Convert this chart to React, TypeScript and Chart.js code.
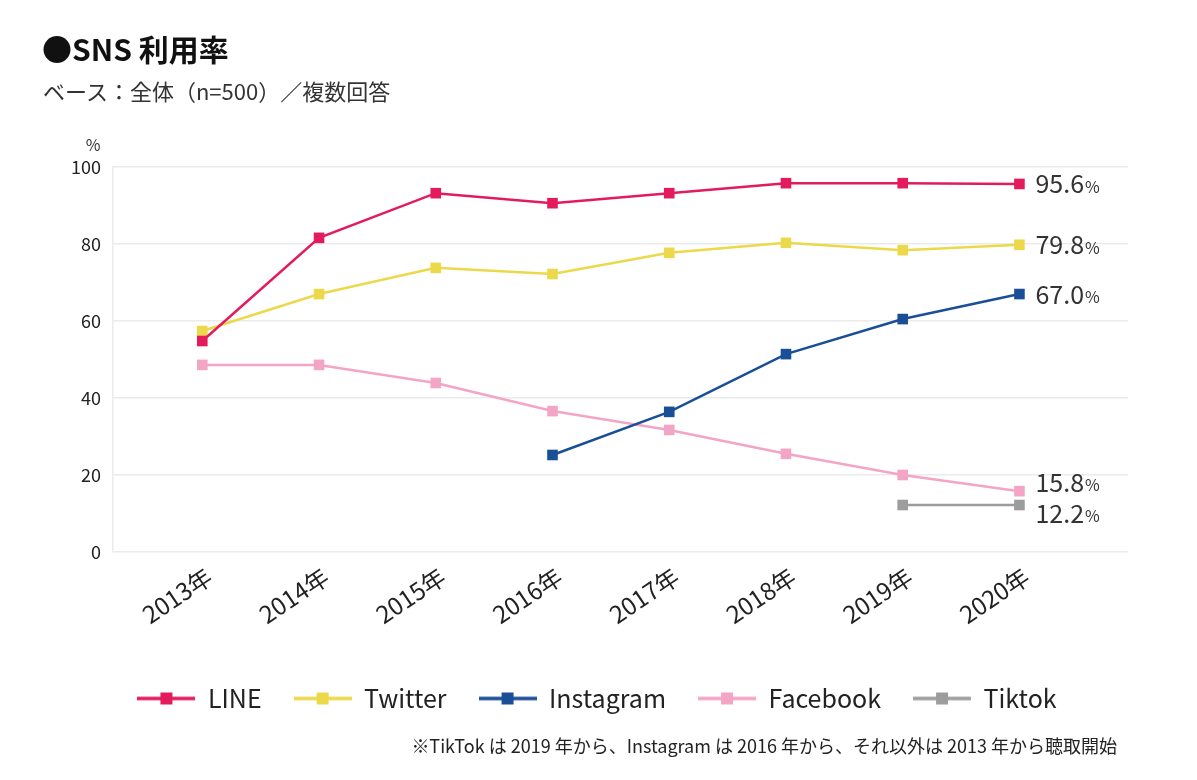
import React, { useEffect, useRef } from "react";
import { Chart, registerables } from "chart.js";

Chart.register(...registerables);

const years = ["2013年", "2014年", "2015年", "2016年", "2017年", "2018年", "2019年", "2020年"];
const lineValues = [54.8, 81.6, 93.2, 90.6, 93.2, 95.8, 95.8, 95.6];
const twitterValues = [57.4, 67.0, 73.8, 72.2, 77.7, 80.3, 78.4, 79.8];
const instagramValues = [null, null, null, 25.2, 36.4, 51.4, 60.5, 67.0];
const facebookValues = [48.6, 48.6, 43.9, 36.6, 31.7, 25.5, 20.0, 15.8];
const tiktokValues = [null, null, null, null, null, null, 12.2, 12.2];
const seriesNames = ["LINE", "Twitter", "Instagram", "Facebook", "Tiktok"];
const seriesColors = ["#e31b5d", "#ecd94b", "#1a4e96", "#f3a5c5", "#9d9d9d"];
const yTicks = [0, 20, 40, 60, 80, 100];
const endLabelShift = [0, 0, 0, -9, 8];

const FONT = "'Noto Sans CJK JP', 'Noto Sans', sans-serif";

function toPoints(values: (number | null)[]) {
  return values
    .map((v, i) => (v === null ? null : { x: i, y: v }))
    .filter((p) => p !== null) as { x: number; y: number }[];
}

function legendImage(color: string) {
  const c = document.createElement("canvas");
  c.width = 58;
  c.height = 14;
  const ctx = c.getContext("2d")!;
  ctx.strokeStyle = color;
  ctx.lineWidth = 3.5;
  ctx.beginPath();
  ctx.moveTo(0, 7);
  ctx.lineTo(58, 7);
  ctx.stroke();
  ctx.fillStyle = color;
  ctx.fillRect(23, 1, 12, 12);
  return c;
}

const endLabelPlugin = {
  id: "endLabels",
  afterDatasetsDraw(chart: any) {
    const ctx = chart.ctx;
    chart.data.datasets.forEach((ds: any, i: number) => {
      const meta = chart.getDatasetMeta(i);
      const pts = meta.data;
      if (!pts.length) return;
      const last = pts[pts.length - 1];
      const val = ds.data[ds.data.length - 1].y;
      const txt = val.toFixed(1);
      const x = last.x + 16;
      const y = last.y + endLabelShift[i];
      ctx.save();
      ctx.fillStyle = "#333";
      ctx.textBaseline = "middle";
      ctx.textAlign = "left";
      ctx.font = `25px ${FONT}`;
      ctx.fillText(txt, x, y);
      const w = ctx.measureText(txt).width;
      ctx.font = `16px ${FONT}`;
      ctx.fillText("%", x + w + 1, y + 3);
      ctx.restore();
    });
    const area = chart.chartArea;
    ctx.save();
    ctx.fillStyle = "#333";
    ctx.font = `16px ${FONT}`;
    ctx.textAlign = "center";
    ctx.textBaseline = "middle";
    ctx.fillText("%", area.left - 20, area.top - 22);
    ctx.restore();
  },
};

export default function App() {
  const ref = useRef<HTMLCanvasElement>(null);
  useEffect(() => {
    const allValues = [lineValues, twitterValues, instagramValues, facebookValues, tiktokValues];
    const images = seriesColors.map(legendImage);
    const chart = new Chart(ref.current!, {
      type: "line",
      data: {
        datasets: allValues.map((vals, i) => ({
          label: seriesNames[i],
          data: toPoints(vals),
          borderColor: seriesColors[i],
          backgroundColor: seriesColors[i],
          borderWidth: 2.5,
          pointStyle: "rect",
          pointRadius: 7.5,
          pointHoverRadius: 7.5,
          pointBorderWidth: 0,
          tension: 0,
        })),
      },
      options: {
        animation: false,
        responsive: false,
        layout: { padding: { left: 66, right: 69, top: 167, bottom: 59 } },
        scales: {
          x: {
            type: "linear",
            min: -0.765,
            max: 7.93,
            afterBuildTicks: (scale: any) => {
              scale.ticks = years.map((_, i) => ({ value: i }));
            },
            afterFit: (scale: any) => {
              scale.height = 102;
            },
            grid: { display: false },
            border: { display: false },
            ticks: {
              callback: (v: any) => years[v as number],
              minRotation: 34,
              maxRotation: 34,
              labelOffset: 7,
              padding: 2,
              color: "#222",
              font: { family: FONT, size: 24 },
            },
          },
          y: {
            min: 0,
            max: 100,
            afterBuildTicks: (scale: any) => {
              scale.ticks = yTicks.map((v) => ({ value: v }));
            },
            afterFit: (scale: any) => {
              scale.width = 47;
            },
            grid: { color: "#ebebeb", lineWidth: 1.5, drawTicks: false },
            border: { display: true, color: "#ebebeb", width: 1.5 },
            ticks: {
              padding: 12,
              color: "#222",
              font: { family: FONT, size: 18 },
            },
          },
        },
        plugins: {
          legend: {
            position: "bottom",
            labels: {
              usePointStyle: true,
              pointStyleWidth: 58,
              padding: 32,
              color: "#222",
              font: { family: FONT, size: 25 },
              generateLabels: (c: any) => {
                const base = (Chart as any).defaults.plugins.legend.labels.generateLabels(c);
                return base.map((l: any, i: number) => ({ ...l, pointStyle: images[i] }));
              },
            },
          },
          tooltip: { enabled: false },
        },
      } as any,
      plugins: [endLabelPlugin],
    });
    return () => chart.destroy();
  }, []);

  return (
    <div style={{ position: "absolute", left: 0, top: 0, width: 1197, height: 780, background: "#fff", fontFamily: FONT }}>
      <canvas ref={ref} width={1197} height={780} style={{ position: "absolute", left: 0, top: 0 }} />
      <div style={{ position: "absolute", left: 42, top: 33, fontSize: 30, lineHeight: "30px", fontWeight: 700, color: "#111", whiteSpace: "nowrap" }}>●SNS 利用率</div>
      <div style={{ position: "absolute", left: 43, top: 79, fontSize: 22, lineHeight: "22px", color: "#333", whiteSpace: "nowrap" }}>ベース：全体（n=500）／複数回答</div>
      <div style={{ position: "absolute", right: 80, top: 736, fontSize: 18, lineHeight: "18px", color: "#222", whiteSpace: "nowrap" }}>
        ※TikTok は 2019 年から、Instagram は 2016 年から、それ以外は 2013 年から聴取開始
      </div>
    </div>
  );
}
